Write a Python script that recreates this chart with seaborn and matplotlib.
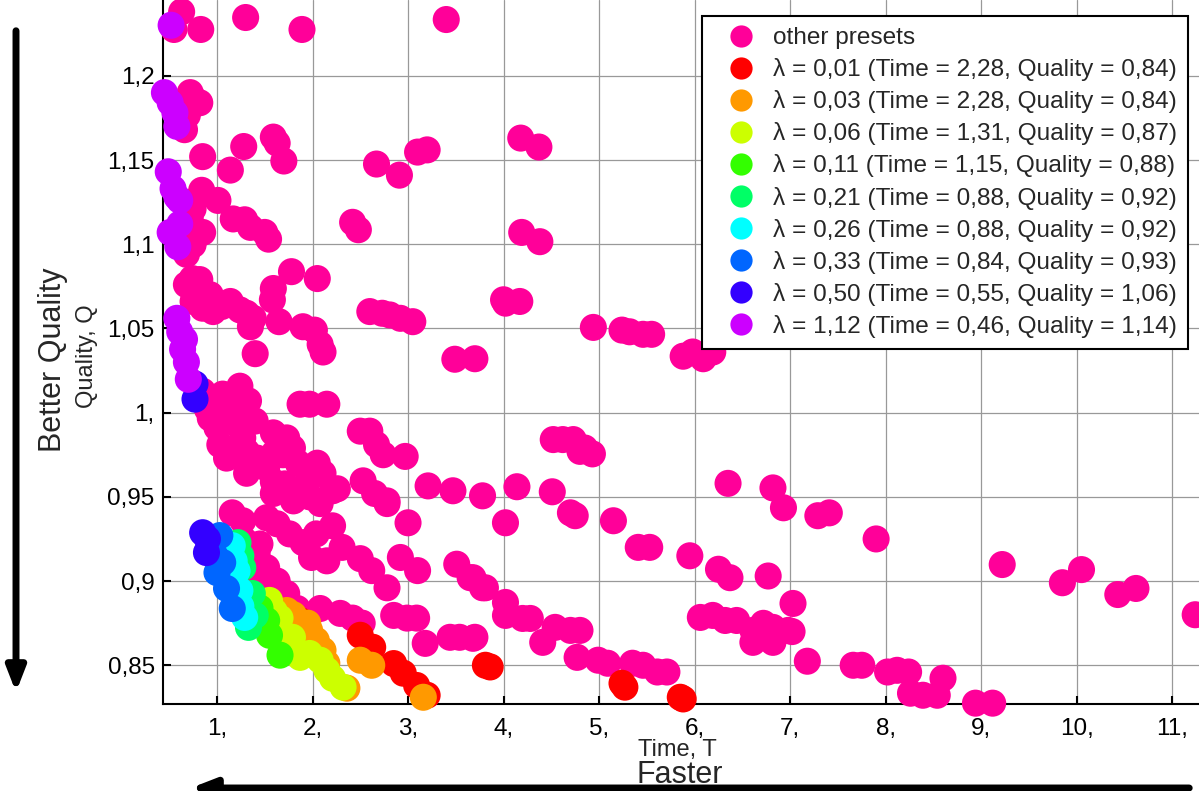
import numpy as np
import pandas as pd
import matplotlib
matplotlib.use("Agg")
import matplotlib.pyplot as plt
import seaborn as sns
from matplotlib.lines import Line2D
from matplotlib.patches import FancyArrowPatch

# ---------------- data ----------------
other_x = [0.63, 0.55, 0.83, 1.30, 1.89, 3.40,
           0.72, 0.82, 0.69, 0.66, 0.76,
           0.85, 1.14, 1.28, 1.59, 1.70, 1.63,
           2.67, 2.91, 3.10, 3.20, 4.18, 4.37,
           0.84, 1.01, 0.75, 0.85, 0.75, 0.68, 0.66, 0.72,
           1.17, 1.29, 1.35, 1.50, 1.54, 2.42, 2.48, 4.19, 4.38,
           0.74, 0.82, 0.68, 0.75, 0.93, 0.96, 1.14, 1.24, 1.31, 1.35, 1.38, 0.85, 1.05,
           1.78, 2.05, 1.59, 1.58, 1.65, 1.90, 2.02, 2.08, 2.11, 1.40,
           2.60, 2.73, 2.81, 2.92, 3.05, 3.49, 3.70, 4.00, 4.17, 4.02,
           4.94, 5.24, 5.32, 5.46, 5.55, 5.88, 5.98, 6.09, 6.19,
           0.85, 0.93, 1.06, 1.24, 1.33, 0.93, 1.00, 1.10, 1.21, 1.03, 1.14, 1.27, 1.31, 1.10,
           1.31, 1.42, 1.52, 1.59, 1.73, 1.79, 1.69, 1.87, 2.15, 2.11, 2.26, 1.71, 1.80, 1.59, 1.94,
           0.90, 1.15, 1.40, 1.60, 1.85, 1.97, 2.05, 1.97,
           2.50, 2.60, 2.67, 2.74, 2.97, 2.53, 2.65, 2.78, 3.21, 3.47, 3.78,
           4.14, 4.51, 4.02, 4.75, 4.70, 5.15, 4.52, 4.62, 4.73, 4.80, 4.93, 4.85,
           6.35, 6.82, 6.93, 5.41, 5.53, 5.95, 6.25, 6.37, 6.77, 7.03,
           7.29, 7.41, 7.90, 9.22, 9.85, 10.05, 10.43, 10.62, 11.24,
           7.02, 7.18, 7.66, 7.75, 8.02, 8.12, 8.24, 8.60, 8.26, 8.39, 8.54, 8.94, 9.12,
           3.68, 3.81, 4.02, 4.02, 4.20, 4.28, 4.41, 4.54, 4.80, 4.70, 3.68, 4.77, 4.99, 5.09,
           5.35, 5.46, 5.61, 5.71,
           6.06, 6.19, 6.32, 6.44, 6.61, 6.72, 6.82, 6.61, 6.82, 6.98,
           1.16, 1.27, 1.52, 1.63, 1.76, 1.90, 2.04, 2.21, 2.15, 1.99, 2.31, 2.50, 2.62, 2.78,
           3.00, 2.92, 3.10,
           1.42, 1.52, 1.63, 1.73, 1.84, 1.45, 1.29, 1.35, 1.40, 1.55,
           2.08, 2.29, 2.42, 2.52, 2.85, 2.99, 3.09, 3.18, 3.44, 3.54, 3.70,
           3.51, 3.65, 3.78, 1.59, 1.80, 2.08, 2.21, 2.78]
other_y = [1.238, 1.2275, 1.2275, 1.2346, 1.2275, 1.2334,
           1.190, 1.184, 1.1766, 1.168, 1.186,
           1.152, 1.144, 1.158, 1.1636, 1.1494, 1.160,
           1.1476, 1.141, 1.1547, 1.156, 1.163, 1.1577,
           1.132, 1.126, 1.121, 1.107, 1.0997, 1.094, 1.125, 1.115,
           1.115, 1.1145, 1.110, 1.107, 1.103, 1.113, 1.1086, 1.107, 1.1015,
           1.0796, 1.0790, 1.076, 1.066, 1.070, 1.060, 1.066, 1.061, 1.059, 1.051, 1.056, 1.062, 1.063,
           1.0837, 1.0796, 1.0737, 1.067, 1.054, 1.051, 1.049, 1.0405, 1.036, 1.035,
           1.060, 1.059, 1.058, 1.056, 1.054, 1.0317, 1.032, 1.067, 1.066, 1.065,
           1.0506, 1.049, 1.048, 1.0465, 1.0465, 1.0335, 1.036, 1.032, 1.036,
           1.0127, 1.007, 1.011, 1.0157, 1.007, 0.9967, 0.991, 0.9967, 0.993, 0.981, 0.977, 0.985, 0.977, 0.973,
           0.964, 0.973, 0.967, 0.988, 0.985, 0.979, 0.975, 1.005, 1.005, 0.964, 0.9548, 0.9577, 0.9494, 0.959, 0.9577,
           1.002, 1.003, 0.995, 0.976, 0.970, 1.005, 0.970, 0.950,
           0.989, 0.989, 0.981, 0.975, 0.974, 0.9595, 0.952, 0.9476, 0.9565, 0.9536, 0.9506,
           0.956, 0.953, 0.9346, 0.9388, 0.9405, 0.9358, 0.984, 0.984, 0.984, 0.977, 0.9755, 0.979,
           0.958, 0.9553, 0.9435, 0.920, 0.920, 0.915, 0.907, 0.902, 0.903, 0.8867,
           0.9388, 0.9405, 0.925, 0.9098, 0.899, 0.9068, 0.892, 0.8956, 0.880,
           0.870, 0.8524, 0.850, 0.850, 0.846, 0.847, 0.846, 0.8423, 0.8334, 0.8322, 0.8322, 0.8275, 0.8275,
           0.902, 0.896, 0.8873, 0.8796, 0.8778, 0.8778, 0.8636, 0.8725, 0.8707, 0.8707, 0.866, 0.8547, 0.853, 0.8512,
           0.8512, 0.850, 0.846, 0.846,
           0.8784, 0.8796, 0.8766, 0.8766, 0.8707, 0.8749, 0.8725, 0.8636, 0.8636, 0.8707,
           0.9405, 0.9358, 0.9376, 0.934, 0.928, 0.9228, 0.928, 0.9328, 0.912, 0.914, 0.920, 0.9133, 0.9062, 0.896,
           0.9346, 0.914, 0.9062,
           0.9163, 0.908, 0.900, 0.8926, 0.8837, 0.922, 0.924, 0.918, 0.905, 0.895,
           0.8837, 0.8808, 0.878, 0.875, 0.8796, 0.878, 0.878, 0.863, 0.8666, 0.8666, 0.8666,
           0.910, 0.902, 0.896, 0.952, 0.9476, 0.946, 0.9536, 0.946]

lam001_x = [2.50, 2.63, 2.85, 2.95, 3.09, 3.20, 1.87, 3.81, 3.86, 5.24, 5.27, 5.85, 5.88]
lam001_y = [0.8678, 0.8607, 0.851, 0.8453, 0.838, 0.8322, 0.8766, 0.850, 0.849, 0.8393, 0.837, 0.831, 0.830]
lam003_x = [1.73, 1.87, 1.97, 2.04, 2.11, 2.15, 2.36, 2.50, 2.62, 3.16, 1.80, 1.95]
lam003_y = [0.8825, 0.875, 0.8707, 0.8648, 0.8589, 0.8512, 0.8364, 0.853, 0.850, 0.831, 0.880, 0.875]
lam006_x = [1.55, 1.66, 1.79, 1.87, 1.97, 2.08, 2.15, 2.21, 2.32, 1.69, 1.60]
lam006_y = [0.8885, 0.878, 0.8666, 0.8547, 0.857, 0.853, 0.847, 0.8423, 0.837, 0.869, 0.882]
lam011_x = [1.52, 1.55, 1.66, 1.45]
lam011_y = [0.8766, 0.8678, 0.856, 0.884]
lam021_x = [1.22, 1.27, 1.37, 1.40, 1.33, 1.25]
lam021_y = [0.9228, 0.908, 0.8926, 0.8796, 0.8725, 0.915]
lam026_x = [1.16, 1.21, 1.24, 1.29, 1.18, 1.25]
lam026_y = [0.921, 0.906, 0.8944, 0.8784, 0.912, 0.885]
lam033_x = [1.03, 1.06, 0.98, 1.10, 1.16, 1.00, 0.95]
lam033_y = [0.927, 0.911, 0.915, 0.8956, 0.8837, 0.905, 0.920]
lam050_x = [0.77, 0.77, 0.85, 0.89, 0.90]
lam050_y = [1.017, 1.008, 0.9287, 0.9169, 0.925]
lam112_x = [0.52, 0.45, 0.51, 0.56, 0.58, 0.49, 0.54, 0.61, 0.58, 0.61, 0.51, 0.59,
            0.58, 0.61, 0.66, 0.64, 0.68, 0.70]
lam112_y = [1.230, 1.190, 1.184, 1.178, 1.170, 1.143, 1.133, 1.126, 1.128, 1.112, 1.107, 1.0985,
            1.056, 1.048, 1.0435, 1.0376, 1.030, 1.0198]

series_labels = ["other presets",
                 "λ = 0,01 (Time = 2,28, Quality = 0,84)",
                 "λ = 0,03 (Time = 2,28, Quality = 0,84)",
                 "λ = 0,06 (Time = 1,31, Quality = 0,87)",
                 "λ = 0,11 (Time = 1,15, Quality = 0,88)",
                 "λ = 0,21 (Time = 0,88, Quality = 0,92)",
                 "λ = 0,26 (Time = 0,88, Quality = 0,92)",
                 "λ = 0,33 (Time = 0,84, Quality = 0,93)",
                 "λ = 0,50 (Time = 0,55, Quality = 1,06)",
                 "λ = 1,12 (Time = 0,46, Quality = 1,14)"]
series_colors = ["#FF0099", "#FF0000", "#FF9900", "#CCFF00", "#33FF00",
                 "#00FF66", "#00FFFF", "#0066FF", "#3300FF", "#CC00FF"]

x_ticks = [1, 2, 3, 4, 5, 6, 7, 8, 9, 10, 11]
x_tick_labels = ["1,", "2,", "3,", "4,", "5,", "6,", "7,", "8,", "9,", "10,", "11,"]
y_ticks = [0.85, 0.9, 0.95, 1.0, 1.05, 1.1, 1.15, 1.2]
y_tick_labels = ["0,85", "0,9", "0,95", "1,", "1,05", "1,1", "1,15", "1,2"]

# ---------------- build frame ----------------
xs = [other_x, lam001_x, lam003_x, lam006_x, lam011_x, lam021_x, lam026_x, lam033_x, lam050_x, lam112_x]
ys = [other_y, lam001_y, lam003_y, lam006_y, lam011_y, lam021_y, lam026_y, lam033_y, lam050_y, lam112_y]
frames = []
for lab, xx, yy in zip(series_labels, xs, ys):
    frames.append(pd.DataFrame({"Time": xx, "Quality": yy, "group": lab}))
df = pd.concat(frames, ignore_index=True)

sns.set_theme(style="white")
plt.rcParams["font.family"] = ["Liberation Sans", "DejaVu Sans"]

W, H = 1199, 791
fig = plt.figure(figsize=(W / 100, H / 100), dpi=100)
ax = fig.add_axes([163 / W, 87 / H, 1 - 163 / W, 704 / H])

sns.scatterplot(data=df, x="Time", y="Quality", hue="group", hue_order=series_labels,
                palette=dict(zip(series_labels, series_colors)), s=380, linewidth=0,
                alpha=1.0, legend=False, ax=ax, zorder=3, clip_on=False)

ax.set_xlim(0.435, 11.28)
ax.set_ylim(0.827, 1.245)
ax.set_xticks(x_ticks)
ax.set_xticklabels(x_tick_labels)
ax.set_yticks(y_ticks)
ax.set_yticklabels(y_tick_labels)
ax.set_xlabel("")
ax.set_ylabel("")
ax.grid(True, color="#999999", linewidth=0.9, linestyle="-")
ax.set_axisbelow(True)
for side in ["top", "right"]:
    ax.spines[side].set_visible(False)
for side in ["left", "bottom"]:
    ax.spines[side].set_color("black")
    ax.spines[side].set_linewidth(1.5)
ax.tick_params(direction="in", length=6, width=1.5, labelsize=17.5, colors="black",
               left=True, bottom=True)
ax.tick_params(axis="x", pad=10)
ax.tick_params(axis="y", pad=6)

handles = [Line2D([0], [0], marker="o", linestyle="", markersize=16,
                  markerfacecolor=c, markeredgewidth=0) for c in series_colors]
leg = ax.legend(handles, series_labels, loc="upper right", bbox_to_anchor=(0.989, 0.977),
                fontsize=17.6, frameon=True, fancybox=False, framealpha=1,
                edgecolor="black", labelspacing=0.37, handletextpad=0.15,
                borderpad=0.45, handlelength=2.3, borderaxespad=0)
leg.get_frame().set_linewidth(1.5)
leg.set_zorder(10)

# axis captions
fig.text(677 / W, 1 - 750 / H, "Time, T", ha="center", va="center", fontsize=17)
fig.text(680 / W, 1 - 775 / H, "Faster", ha="center", va="center", fontsize=22)
fig.text(53 / W, 1 - 360 / H, "Better Quality", ha="center", va="center", fontsize=22,
         rotation=90)
fig.text(87 / W, 1 - 356 / H, "Quality, Q", ha="center", va="center", fontsize=17,
         rotation=90)

# arrows
fig.add_artist(FancyArrowPatch((16 / W, 1 - 28 / H), (16 / W, 1 - 695 / H),
                               transform=fig.transFigure, arrowstyle="-|>,head_length=0.9,head_width=0.35",
                               mutation_scale=16, linewidth=5, color="black"))
fig.add_artist(FancyArrowPatch((1192 / W, 1 - 788 / H), (188 / W, 1 - 788 / H),
                               transform=fig.transFigure, arrowstyle="-|>,head_length=0.9,head_width=0.35",
                               mutation_scale=16, linewidth=5, color="black"))

fig.savefig("out.png", dpi=100)
